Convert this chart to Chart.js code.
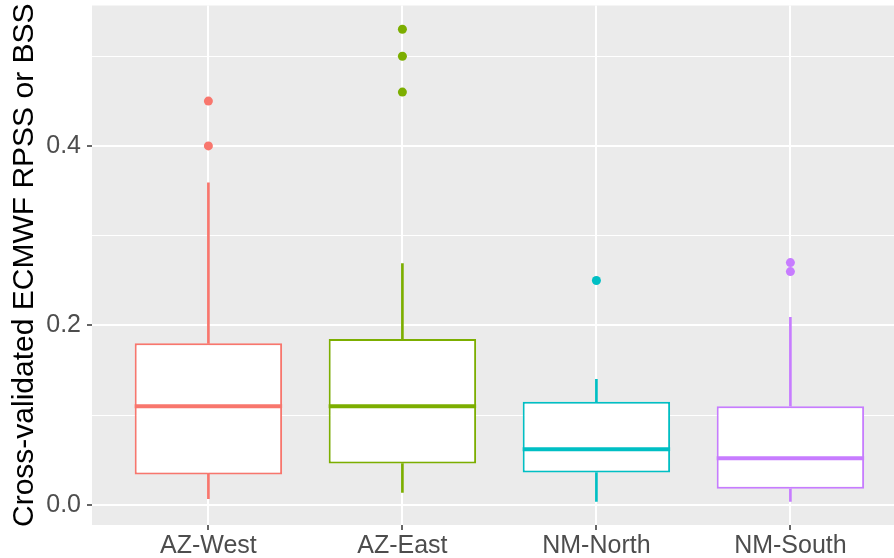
<!DOCTYPE html>
<html>
<head>
<meta charset="utf-8">
<script src="https://cdn.jsdelivr.net/npm/chart.js@4"></script>
<style>
  html, body { margin: 0; padding: 0; background: #ffffff; }
  #wrap { width: 894px; height: 558px; }
</style>
</head>
<body>
<div id="wrap"><canvas id="chart-box"></canvas></div>
<script>
const regions = ['AZ-West', 'AZ-East', 'NM-North', 'NM-South'];
const whiskerLow = [0.007, 0.014, 0.004, 0.004];
const q1 = [0.034, 0.046, 0.036, 0.018];
const median = [0.110, 0.110, 0.062, 0.052];
const q3 = [0.180, 0.185, 0.115, 0.110];
const whiskerHigh = [0.359, 0.269, 0.140, 0.209];
const outliers = [[0.40, 0.45], [0.46, 0.50, 0.53], [0.25], [0.26, 0.27]];
const yTicks = [0, 0.1, 0.2, 0.3, 0.4, 0.5];

const colors = ['#F8766D', '#7CAE00', '#00BFC4', '#C77CFF'];
const fontFamily = '"Liberation Sans", Arial, Helvetica, sans-serif';

const xs = regions.map((r, i) => i + 1);
const isMajor = v => Math.round(v * 10) % 2 === 0;

// panel background, drawn before grid lines
const panelBg = {
  id: 'panelBg',
  beforeDraw(chart) {
    const { ctx, chartArea: a } = chart;
    ctx.save();
    ctx.fillStyle = '#EBEBEB';
    ctx.fillRect(a.left, a.top, a.right - a.left, a.bottom - a.top);
    ctx.restore();
  }
};

// median line across each box
const medianLines = {
  id: 'medianLines',
  afterDatasetsDraw(chart) {
    const { ctx, scales: { x, y } } = chart;
    ctx.save();
    ctx.lineWidth = 4;
    median.forEach((m, i) => {
      const cx = x.getPixelForValue(xs[i]);
      const half = x.getPixelForValue(xs[i] + 0.38) - cx;
      const py = y.getPixelForValue(m);
      ctx.strokeStyle = colors[i];
      ctx.beginPath();
      ctx.moveTo(cx - half, py);
      ctx.lineTo(cx + half, py);
      ctx.stroke();
    });
    ctx.restore();
  }
};

const outlierPoints = [];
const outlierColors = [];
outliers.forEach((list, i) => {
  list.forEach(v => {
    outlierPoints.push({ x: xs[i], y: v });
    outlierColors.push(colors[i]);
  });
});

const data = {
  datasets: [
    {
      type: 'bar',
      label: 'upper whisker',
      data: xs.map((x, i) => ({ x: x, y: [q3[i], whiskerHigh[i]] })),
      backgroundColor: colors,
      borderWidth: 0,
      barThickness: 2,
      order: 3
    },
    {
      type: 'bar',
      label: 'lower whisker',
      data: xs.map((x, i) => ({ x: x, y: [whiskerLow[i], q1[i]] })),
      backgroundColor: colors,
      borderWidth: 0,
      barThickness: 2,
      order: 3
    },
    {
      type: 'bar',
      label: 'box',
      data: xs.map((x, i) => ({ x: x, y: [q1[i], q3[i]] })),
      backgroundColor: '#ffffff',
      borderColor: colors,
      borderWidth: 2,
      borderSkipped: false,
      barPercentage: 0.76,
      categoryPercentage: 1,
      order: 2
    },
    {
      type: 'scatter',
      label: 'outliers',
      data: outlierPoints,
      backgroundColor: outlierColors,
      borderWidth: 0,
      pointRadius: 4.5,
      order: 1
    }
  ]
};

const config = {
  type: 'bar',
  data: data,
  options: {
    responsive: true,
    maintainAspectRatio: false,
    animation: false,
    layout: { autoPadding: false, padding: { top: 5.5, right: 0, bottom: 0, left: 0 } },
    datasets: { bar: { grouped: false } },
    plugins: {
      legend: { display: false },
      tooltip: { enabled: false }
    },
    scales: {
      x: {
        type: 'linear',
        offset: false,
        min: 0.4,
        max: 0.4 + 802 / 194,
        afterBuildTicks: scale => { scale.ticks = xs.map(v => ({ value: v })); },
        afterFit: scale => { scale.height = 33; scale.paddingLeft = 0; scale.paddingRight = 0; },
        border: { display: false },
        grid: {
          offset: false,
          color: '#ffffff',
          lineWidth: 2,
          drawTicks: true,
          tickLength: 5,
          tickColor: '#333333',
          tickWidth: 1.5
        },
        ticks: {
          autoSkip: false,
          maxRotation: 0,
          padding: 1,
          color: '#4D4D4D',
          font: { family: fontFamily, size: 25 },
          callback: v => regions[v - 1]
        }
      },
      y: {
        min: -0.0224,
        max: 0.5565,
        afterBuildTicks: scale => { scale.ticks = yTicks.map(v => ({ value: v })); },
        afterFit: scale => { scale.width = 92; scale.paddingTop = 0; scale.paddingBottom = 0; },
        border: { display: false },
        grid: {
          color: '#ffffff',
          lineWidth: c => (isMajor(c.tick.value) ? 2 : 1),
          drawTicks: true,
          tickLength: 5,
          tickColor: c => (isMajor(c.tick.value) ? '#333333' : 'rgba(0,0,0,0)'),
          tickWidth: 1.5
        },
        ticks: {
          padding: 6,
          color: '#4D4D4D',
          font: { family: fontFamily, size: 25 },
          callback: v => (isMajor(v) ? v.toFixed(1) : '')
        },
        title: {
          display: true,
          text: 'Cross-validated ECMWF RPSS or BSS',
          color: '#000000',
          padding: { top: 7, bottom: 0 },
          font: { family: fontFamily, size: 30 }
        }
      }
    }
  },
  plugins: [panelBg, medianLines]
};

const boxChart = new Chart(document.getElementById('chart-box'), config);
</script>
</body>
</html>
